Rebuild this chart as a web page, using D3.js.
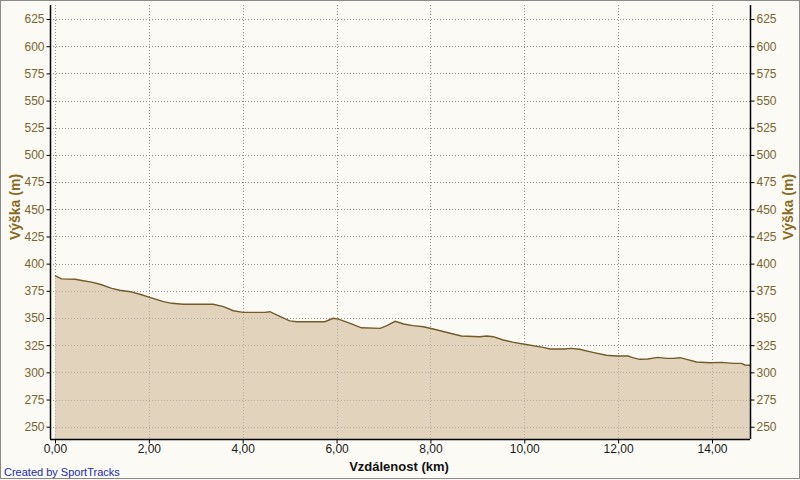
<!DOCTYPE html>
<html><head><meta charset="utf-8">
<script src="https://cdn.jsdelivr.net/npm/d3@7"></script>
<style>
html,body{margin:0;padding:0;background:#fbfaf5;}
svg{display:block;}
</style></head>
<body>
<script>
const distances = [0,0.14,0.43,0.6,0.78,0.96,1.21,1.38,1.6,1.81,2.02,2.31,2.49,2.73,3.37,3.59,3.8,4.01,4.47,4.58,4.79,5.0,5.15,5.75,5.93,6.04,6.29,6.53,6.93,7.07,7.25,7.43,7.63,7.85,8.06,8.42,8.66,9.05,9.2,9.34,9.55,9.77,10.01,10.4,10.55,10.86,11.0,11.18,11.46,11.75,11.96,12.21,12.31,12.46,12.63,12.85,13.03,13.17,13.32,13.46,13.67,13.96,14.21,14.46,14.63,14.7,14.81];
const elevations = [389,386,385.6,384.3,383,381,377.3,375.5,374.2,371.8,369,365,363.5,362.6,362.6,360.4,356.7,355.2,355.2,355.8,351.5,347.3,346.6,346.6,349.7,349,345,341,340.5,343,347,344.5,343,342,339.9,336,333.4,332.8,333.4,332.8,329.8,327.6,325.8,323,321.5,321.5,322.1,321.2,318.4,315.7,315,315,313.5,312,312.3,313.8,312.9,312.9,313.5,312,309.5,308.9,309.2,308.3,308.3,306.8,306.5];
const yTicks = [250,275,300,325,350,375,400,425,450,475,500,525,550,575,600,625];
const xTicks = [0,2,4,6,8,10,12,14];
const xTitle = "Vzdálenost (km)";
const yTitle = "Výška (m)";
const credit = "Created by SportTracks";

(function(){
const W = 800, H = 480;
const pL = 50, pR = 750, pT = 5, pB = 439;
const svg = d3.select("body").append("svg").attr("width", W).attr("height", H);
svg.append("rect").attr("x",0.5).attr("y",0.5).attr("width",W-1).attr("height",H-2)
  .attr("fill","#fbfaf5").attr("stroke","#8a8a8a").attr("stroke-width",1);

const x = d3.scaleLinear().domain([0, 14.81]).range([55, pR]);
const y = d3.scaleLinear().domain([238.7, 637.9]).range([pB, pT]);

const font = "'Liberation Sans', Arial, sans-serif";
const labCol = "#7a6530";

function drawGrid(g){
  yTicks.forEach(v => g.append("line").attr("x1", pL).attr("x2", pR)
    .attr("y1", Math.round(y(v))+0.5).attr("y2", Math.round(y(v))+0.5)
    .attr("stroke","#8f8f8f").attr("stroke-dasharray","1,2"));
  xTicks.forEach(v => g.append("line").attr("y1", pT).attr("y2", pB)
    .attr("x1", Math.round(x(v))+0.5).attr("x2", Math.round(x(v))+0.5)
    .attr("stroke","#8f8f8f").attr("stroke-dasharray","1,2"));
}
drawGrid(svg.append("g"));

const data = distances.map((d,i)=>({d, e: elevations[i]}));
svg.append("path").datum(data)
  .attr("d", d3.area().x(p=>x(p.d)).y0(pB).y1(p=>y(p.e)))
  .attr("fill","#e2d4bc");
drawGrid(svg.append("g").attr("opacity",0.55));
svg.append("path").datum(data)
  .attr("d", d3.line().x(p=>x(p.d)).y(p=>y(p.e)))
  .attr("fill","none").attr("stroke","#735a2a").attr("stroke-width",1.4);

const fmt = d => d.toFixed(2).replace(".", ",");
const yl = svg.append("g").attr("transform",`translate(${pL+0.5},0)`)
  .call(d3.axisLeft(y).tickValues(yTicks).tickSize(4).tickPadding(2).tickSizeOuter(0));
const yr = svg.append("g").attr("transform",`translate(${pR+0.5},0)`)
  .call(d3.axisRight(y).tickValues(yTicks).tickSize(4).tickPadding(2).tickSizeOuter(0));
const xb = svg.append("g").attr("transform",`translate(0,${pB+0.5})`)
  .call(d3.axisBottom(x).tickValues(xTicks).tickFormat(fmt).tickSize(4).tickPadding(1).tickSizeOuter(0));
[yl,yr,xb].forEach(g=>{
  g.select(".domain").attr("stroke","#000").attr("stroke-width",1.5);
  g.selectAll(".tick line").attr("stroke","#000");
  g.selectAll("text").attr("font-family",font).attr("font-size",12);
});
yl.select(".domain").attr("d",`M0,${pT}V${pB}`);
yr.select(".domain").attr("d",`M0,${pT}V${pB}`);
xb.select(".domain").attr("d",`M${pL},0H${pR}`);
yl.selectAll("text").attr("fill",labCol);
yr.selectAll("text").attr("fill",labCol);
xb.selectAll("text").attr("fill","#1a1a1a");

svg.append("text").attr("x",399).attr("y",471).attr("text-anchor","middle")
  .attr("font-family",font).attr("font-weight","bold").attr("font-size",13).attr("fill","#111").text(xTitle);
svg.append("text").attr("transform","translate(20,207) rotate(-90)").attr("text-anchor","middle")
  .attr("font-family",font).attr("font-weight","bold").attr("font-size",14).attr("fill","#8a6a22").text(yTitle);
svg.append("text").attr("transform","translate(793,207) rotate(-90)").attr("text-anchor","middle")
  .attr("font-family",font).attr("font-weight","bold").attr("font-size",14).attr("fill","#8a6a22").text(yTitle);
svg.append("text").attr("x",4).attr("y",476)
  .attr("font-family",font).attr("font-size",11).attr("fill","#1a2ab0").text(credit);
})();
</script>
</body></html>
